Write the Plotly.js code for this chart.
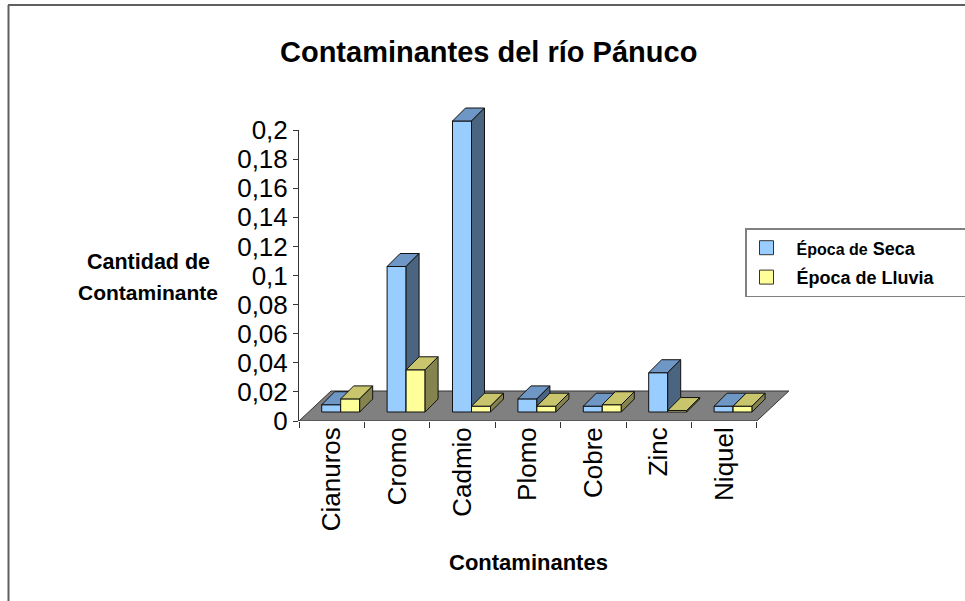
<!DOCTYPE html>
<html>
<head>
<meta charset="utf-8">
<script src="https://cdn.plot.ly/plotly-3.0.1.min.js"></script>
<style>html,body{margin:0;padding:0;background:#fff;}#chart{width:965px;height:601px;}</style>
</head>
<body>
<div id="chart"></div>
<script>
// ---- data ----
const categories = ['Cianuros', 'Cromo', 'Cadmio', 'Plomo', 'Cobre', 'Zinc', 'Niquel'];
const seca = [0.005, 0.1, 0.2, 0.009, 0.004, 0.027, 0.004];
const lluvia = [0.009, 0.029, 0.004, 0.004, 0.005, 0.001, 0.004];
const seriesNames = ['Época de Seca', 'Época de Lluvia'];
const yTickVals = [0, 0.02, 0.04, 0.06, 0.08, 0.1, 0.12, 0.14, 0.16, 0.18, 0.2];
const yTickText = ['0', '0,02', '0,04', '0,06', '0,08', '0,1', '0,12', '0,14', '0,16', '0,18', '0,2'];

// ---- geometry (pixel-based projection helpers) ----
const W = 965, H = 601;
const PX_CAT = 65.4, PX_UNIT = 1455;
const fx = p => p / PX_CAT, fy = p => p / PX_UNIT;
const frontDX = fx(9), frontDY = fy(9), depthDX = fx(13), depthDY = fy(13), barW = fx(19);
const FONT = 'Liberation Sans, Arial, sans-serif';

const styles = [
  {front: '#99ccff', top: '#6f97c6', side: '#4b6480'},
  {front: '#ffff99', top: '#c9c56c', side: '#85844f'}
];

function faces(values, s) {
  const f = {front: {x: [], y: []}, top: {x: [], y: []}, side: {x: [], y: []}};
  values.forEach((v, i) => {
    const xl = i + frontDX - barW + s * barW, xr = xl + barW;
    const b = frontDY, t = b + v;
    const add = (o, pts) => { pts.forEach(p => { o.x.push(p[0]); o.y.push(p[1]); }); o.x.push(null); o.y.push(null); };
    add(f.front, [[xl, b], [xr, b], [xr, t], [xl, t], [xl, b]]);
    add(f.top, [[xl, t], [xr, t], [xr + depthDX, t + depthDY], [xl + depthDX, t + depthDY], [xl, t]]);
    add(f.side, [[xr, b], [xr + depthDX, b + depthDY], [xr + depthDX, t + depthDY], [xr, t], [xr, b]]);
  });
  return f;
}

const traces = [];
// floor
const nC = categories.length;
traces.push({
  type: 'scatter', mode: 'lines', fill: 'toself', fillcolor: '#808080',
  x: [-0.5, nC - 0.5, nC - 0.5 + fx(32), -0.5 + fx(32), -0.5],
  y: [0, 0, fy(30), fy(30), 0],
  line: {color: '#333', width: 1}, hoverinfo: 'skip', showlegend: false
});
[seca, lluvia].forEach((vals, s) => {
  const f = faces(vals, s);
  ['front', 'top', 'side'].forEach(k => {
    traces.push({
      type: 'scatter', mode: 'lines', fill: 'toself', fillcolor: styles[s][k],
      x: f[k].x, y: f[k].y, line: {color: '#111', width: 1},
      hoverinfo: 'skip', showlegend: false
    });
  });
});
// legend entries
const PAD = '\u00a0'.repeat(10);
const legendLabels = [
  '\u00a0\u00a0<b><span style="font-size:16px">Época de</span> Seca</b>' + PAD,
  '\u00a0\u00a0<b>Época de Lluvia</b>' + PAD
];
seriesNames.forEach((n, s) => {
  traces.push({
    type: 'scatter', mode: 'markers', x: [null], y: [null], name: legendLabels[s],
    legendgroup: 'g' + s,
    marker: {symbol: 'square', size: 14, color: styles[s].front, line: {color: '#333', width: 1}},
    hoverinfo: 'skip', showlegend: true
  });
});
// x2 / y2 helper traces (label axes)
traces.push({type: 'scatter', mode: 'none', x: categories.map((c, i) => i), y: categories.map(() => 0), xaxis: 'x2', yaxis: 'y', hoverinfo: 'skip', showlegend: false});
traces.push({type: 'scatter', mode: 'none', x: [0], y: [0], xaxis: 'x', yaxis: 'y2', hoverinfo: 'skip', showlegend: false});

const xRange = [-0.5, -0.5 + (810 - 299) / PX_CAT];
const boundaries = categories.map((c, i) => i - 0.5).concat([nC - 0.5]);

const layout = {
  width: W, height: H,
  margin: {l: 0, r: 0, t: 0, b: 0, autoexpand: false},
  paper_bgcolor: '#fff', plot_bgcolor: 'rgba(0,0,0,0)',
  font: {family: FONT, color: '#000'},
  showlegend: true,
  xaxis: {
    domain: [299 / W, 810 / W], range: xRange, anchor: 'y',
    tickmode: 'array', tickvals: boundaries, ticks: 'outside', ticklen: 6, tickcolor: '#333', tickwidth: 1,
    showticklabels: false, showgrid: false, zeroline: false, showline: false, fixedrange: true
  },
  xaxis2: {
    overlaying: 'x', anchor: 'y', side: 'bottom', range: xRange,
    tickmode: 'array', tickvals: categories.map((c, i) => i), ticktext: categories,
    tickangle: -90, ticks: '', ticklen: 0,
    tickfont: {family: FONT, size: 26, color: '#000'},
    showgrid: false, zeroline: false, showline: false, fixedrange: true
  },
  yaxis: {
    domain: [(H - 421) / H, (H - 95) / H], range: [0, 326 / PX_UNIT],
    visible: false, fixedrange: true
  },
  yaxis2: {
    domain: [(H - 421) / H, (H - 130) / H], range: [0, 0.2],
    anchor: 'free', position: 298 / W, side: 'left',
    tickmode: 'array', tickvals: yTickVals, ticktext: yTickText,
    ticks: 'outside', ticklen: 5, tickcolor: '#333',
    showline: true, linecolor: '#333', linewidth: 1,
    tickfont: {family: FONT, size: 26, color: '#000'},
    showgrid: false, zeroline: false, fixedrange: true
  },
  legend: {
    x: 745 / W, y: 1 - 228 / H, xanchor: 'left', yanchor: 'top',
    bgcolor: '#fff', bordercolor: '#808080', borderwidth: 1.5,
    font: {family: FONT, size: 18, color: '#000'},
    tracegroupgap: 3, traceorder: 'grouped'
  },
  annotations: [
    {text: '<b>Contaminantes del río Pánuco</b>', x: 488 / W, y: 1 - 52 / H, xref: 'paper', yref: 'paper',
     xanchor: 'center', yanchor: 'middle', showarrow: false, font: {family: FONT, size: 29, color: '#000'}},
    {text: '<b>Cantidad de</b>', x: 148 / W, y: 1 - 262 / H, xref: 'paper', yref: 'paper',
     xanchor: 'center', yanchor: 'middle', showarrow: false, font: {family: FONT, size: 21.5, color: '#000'}},
    {text: '<b>Contaminante</b>', x: 148 / W, y: 1 - 292 / H, xref: 'paper', yref: 'paper',
     xanchor: 'center', yanchor: 'middle', showarrow: false, font: {family: FONT, size: 21, color: '#000'}},
    {text: '<b>Contaminantes</b>', x: 528 / W, y: 1 - 562 / H, xref: 'paper', yref: 'paper',
     xanchor: 'center', yanchor: 'middle', showarrow: false, font: {family: FONT, size: 22, color: '#000'}}
  ],
  shapes: [
    {type: 'line', xref: 'paper', yref: 'paper', x0: 8 / W, x1: 1, y0: 1 - 5 / H, y1: 1 - 5 / H, line: {color: '#606060', width: 2}},
    {type: 'line', xref: 'paper', yref: 'paper', x0: 8.5 / W, x1: 8.5 / W, y0: 1 - 5 / H, y1: 0, line: {color: '#606060', width: 2}}
  ]
};

Plotly.newPlot('chart', traces, layout, {staticPlot: true, displayModeBar: false});
</script>
</body>
</html>
